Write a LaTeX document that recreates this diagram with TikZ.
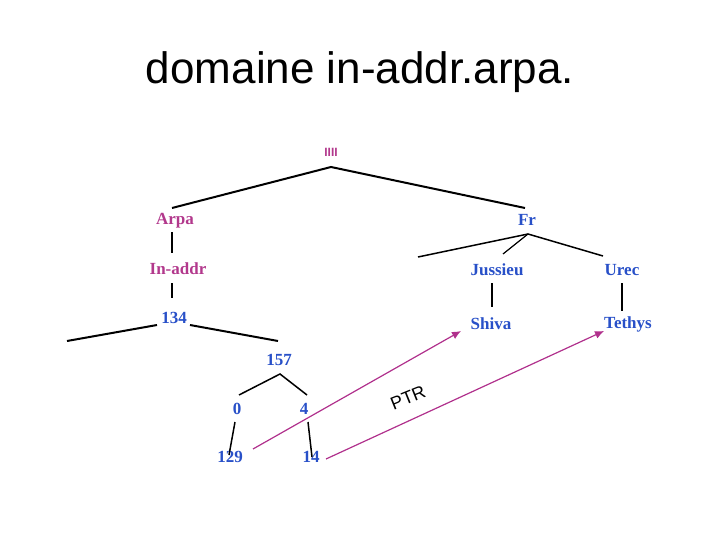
\documentclass[tikz,border=0pt]{standalone}
\usepackage{fontspec}
\setmainfont{Liberation Serif}
\newfontfamily\titlefont{Liberation Sans}
\usetikzlibrary{arrows.meta}
\definecolor{mag}{RGB}{178,56,140}
\definecolor{blu}{RGB}{40,80,200}
\definecolor{arr}{RGB}{176,48,140}
\tikzset{
  lab/.style={inner sep=0pt, font=\bfseries\fontsize{17}{19}\selectfont},
  mlab/.style={lab, text=mag},
  blab/.style={lab, text=blu},
  edge/.style={draw=black, line width=2pt},
  vedge/.style={draw=black, line width=1.2pt},
  ptrarrow/.style={draw=arr, line width=1.2pt, -{Latex[length=9pt,width=8pt]}}
}
\begin{document}
\begin{tikzpicture}[x=1pt,y=-1pt]
\useasboundingbox (0,0) rectangle (720,540);
\node[font=\titlefont\fontsize{44}{50}\selectfont] (title) at (360,72) {domaine in-addr.arpa.};

\node[mlab, font=\titlefont\bfseries\fontsize{12}{13}\selectfont] (root) at (331,152) {IIII};
\node[mlab] (arpa) at (175,221) {Arpa};
\node[blab] (fr) at (527,220) {Fr};
\node[mlab] (inaddr) at (178,269) {In-addr};
\node[blab] (n134) at (174,318) {134};
\node[blab] (n157) at (279,360) {157};
\node[blab] (n0) at (237,409) {0};
\node[blab] (n4) at (304,409) {4};
\node[blab] (n129) at (230,457) {129};
\node[blab] (n14) at (311,457) {14};
\node[blab] (jussieu) at (497,270) {Jussieu};
\node[blab] (urec) at (622,270) {Urec};
\node[blab] (shiva) at (491,324) {Shiva};
\node[blab] (tethys) at (628,324) {Tethys};
\node[font=\titlefont\fontsize{18}{20}\selectfont, rotate=22, inner sep=0pt] (ptr) at (408,398) {PTR};

% coordinates
\coordinate (rA) at (331,167);
\coordinate (rL) at (172,208);
\coordinate (rR) at (525,208);
\coordinate (aT) at (172,232);
\coordinate (aB) at (172,253);
\coordinate (iT) at (172,283);
\coordinate (iB) at (172,298);
\coordinate (c1) at (157,325);
\coordinate (c1e) at (67,341);
\coordinate (c2) at (190,325);
\coordinate (c2e) at (278,341);
\coordinate (dA) at (280,374);
\coordinate (dL) at (239,395);
\coordinate (dR) at (307,395);
\coordinate (zT) at (235,422);
\coordinate (zB) at (229,455);
\coordinate (fT) at (308,422);
\coordinate (fB) at (312,457);
\coordinate (frA) at (528,234);
\coordinate (frL) at (418,257);
\coordinate (frM) at (503,254);
\coordinate (frR) at (603,256);
\coordinate (jT) at (492,283);
\coordinate (jB) at (492,307);
\coordinate (uT) at (622,283);
\coordinate (uB) at (622,311);
\coordinate (p1s) at (253,449);
\coordinate (p1e) at (461,331);
\coordinate (p2s) at (326,459);
\coordinate (p2e) at (604,331);

\draw[edge] (rL) -- (rA) -- (rR);
\draw[vedge] (aT) -- (aB);
\draw[vedge] (iT) -- (iB);
\draw[edge] (c1) -- (c1e);
\draw[edge] (c2) -- (c2e);
\draw[edge, line width=1.5pt] (dL) -- (dA) -- (dR);
\draw[edge, line width=1.5pt] (zT) -- (zB);
\draw[edge, line width=1.5pt] (fT) -- (fB);
\draw[edge, line width=1.5pt] (frL) -- (frA) -- (frR);
\draw[edge, line width=1.2pt] (frA) -- (frM);
\draw[vedge] (jT) -- (jB);
\draw[vedge] (uT) -- (uB);

\draw[ptrarrow] (p1s) -- (p1e);
\draw[ptrarrow] (p2s) -- (p2e);
\end{tikzpicture}
\end{document}
